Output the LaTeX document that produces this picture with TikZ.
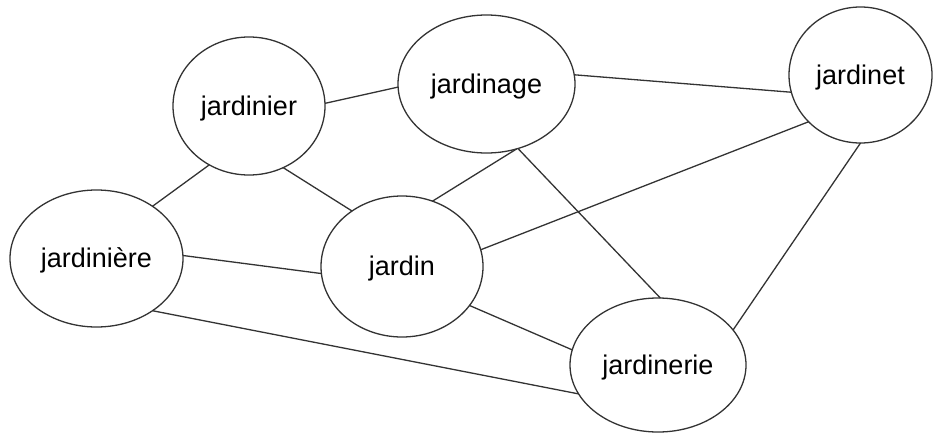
\documentclass[tikz,border=0pt]{standalone}
\usepackage{fontspec}
\setmainfont{Liberation Sans}
\usetikzlibrary{shapes.geometric}
\definecolor{inkgray}{HTML}{333333}
\begin{document}
\begin{tikzpicture}[x=1pt,y=-1pt,
  word/.style={ellipse, draw=inkgray, line width=1.3pt, fill=white,
    inner sep=0pt, outer sep=0pt, text height=18pt, text depth=0pt,
    font=\fontsize{27}{32}\selectfont},
  link/.style={draw=inkgray, line width=1.3pt}]
  \useasboundingbox (0,0) rectangle (933,434);
  % words
  \node[word, minimum width=152pt, minimum height=138pt] (jardinier)  at (249,106)   {jardinier};
  \node[word, minimum width=177pt, minimum height=138pt] (jardinage)  at (486.5,84)  {jardinage};
  \node[word, minimum width=143pt, minimum height=136pt] (jardinet)   at (860.5,75)  {jardinet};
  \node[word, minimum width=173pt, minimum height=137pt] (jardiniere) at (96.5,258.5) {jardinière};
  \node[word, minimum width=162pt, minimum height=141pt] (jardin)     at (402,266.5) {jardin};
  \node[word, minimum width=176pt, minimum height=134pt] (jardinerie) at (658,365)   {jardinerie};
  % links between words
  \draw[link] (jardinier.2)    -- (jardinage.182);
  \draw[link] (jardinier.236)  -- (jardiniere.43);
  \draw[link] (jardinier.299)  -- (jardin.132);
  \draw[link] (jardinage.6)    -- (jardinet.194);
  \draw[link] (jardinage.295)  -- (jardin.65);
  \draw[link] (jardinage.296)  -- (jardinerie.88);
  \draw[link] (jardinet.222)   -- (jardin.12);
  \draw[link] (jardinet.270)   -- (jardinerie.25);
  \draw[link] (jardiniere.2)   -- (jardin.185);
  \draw[link] (jardiniere.317) -- (jardinerie.200);
  \draw[link] (jardin.330)     -- (jardinerie.170);
\end{tikzpicture}
\end{document}
